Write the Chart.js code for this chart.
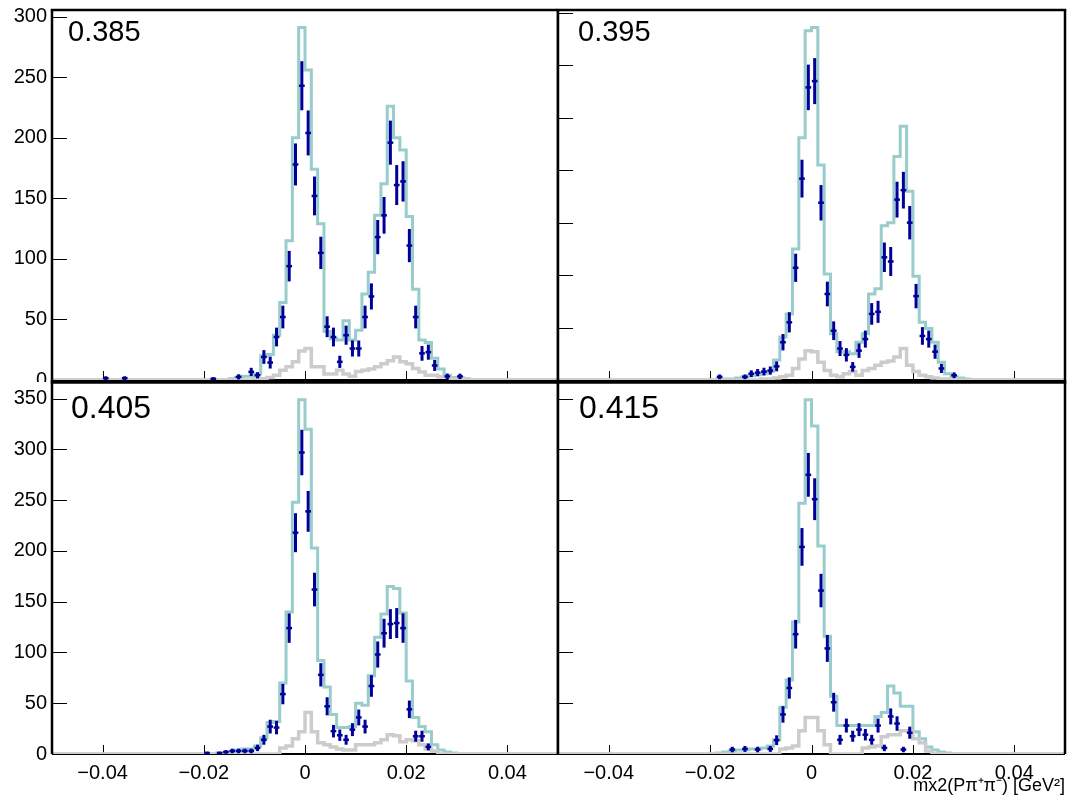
<!DOCTYPE html>
<html>
<head>
<meta charset="utf-8">
<script src="https://cdn.jsdelivr.net/npm/chart.js@4.4.1/dist/chart.umd.min.js"></script>
<style>
html,body{margin:0;padding:0;background:#fff;}
#wrap{position:relative;width:1069px;height:801px;overflow:hidden;}
#wrap canvas{position:absolute;left:0;top:0;}
</style>
</head>
<body>
<div id="wrap">
<canvas id="cTL" width="1069" height="801"></canvas>
<canvas id="cTR" width="1069" height="801"></canvas>
<canvas id="cBL" width="1069" height="801"></canvas>
<canvas id="cBR" width="1069" height="801"></canvas>
</div>
<script>
// ---------------- binning ----------------
const nBins = 80;
const xLow = -0.05;
const xHigh = 0.05;
const firstBin = 8;            // value arrays below start at this bin; bins outside are empty
const panelLabels = ['0.385', '0.395', '0.405', '0.415'];
const xTickValues = [-0.04, -0.02, 0, 0.02, 0.04];
const yTickValues = [0, 50, 100, 150, 200, 250, 300, 350];
const xAxisTitle = 'mx2(P\u03c0\u207a\u03c0\u207b) [GeV\u00b2]';

// ---------------- panel 0.385 (top left) ----------------
const dataTL = [1.5,0,0,1.5,0,0,0,0, 0,0,0,0,0,0,0,0,
  0,1,0,0,0,2.6,0,6.7,3.9,19, 14.4,35.5,52,94,178,243,204,152,105,44,
  35.5,15,37,26,26,52,69,118,136,196, 161,164,111,52,22,23,12,0,3,0, 3,0];
const fitTL = [0,0,0,0,0,0,0,0, 0,0,0,0,0,0,0,0,
  0,0,0,0,1,2,3,3,5,20, 21,37,64,115,200,291,256,174,129,40,
  34,33,49,33,41,71,89,136,162,226, 200,190,135,75,33,31,18,9,4,2, 2,1];
const bgTL = [0,0,0,0,0,0,0,0, 0,0,0,0,0,0,0,0,
  0,0,0,0,0,0,0,0,0.5,1, 2,4,8,11,15,24,26,11,11,5,
  5,8,5,3,7,8,9,11,13.5,16, 19,15,13.5,9.4,6.7,4,4,2.6,2.6,1, 1,0];

// ---------------- panel 0.395 (top right) ----------------
const dataTR = [0,0,0,0,0,0,0,0, 0,0,0,0,0,0,0,0,
  0,3,0,0,0,3,6,7,8,9, 13,36,55,107,192,279,285,169,82,47,
  30,24,12.5,28,39,63,65,117,113,172, 181,150,80,42,39,27,11,0,4.5,0, 0,0];
const fitTR = [0,0,0,0,0,0,0,0, 0,0,0,0,0,0,0,0,
  0,1,1,1,2,3,4,5,6,8, 19,41,63,125,231,333,336,205,101,44,
  27,27,25,36,44,82,87,147,150,213, 242,180,99,55,49,36,17,6,3,2, 1,0];
const bgTR = [0,0,0,0,0,0,0,0, 0,0,0,0,0,0,0,0,
  0,0,0,0,0,0,0,0,1,1, 2,3,4.5,11,20,28,27,17,9,4.5,
  3,6,8,4.5,9,11,14,17,18,22, 30,14,8,4.5,3,2,1,1,0,0, 0,0];

// ---------------- panel 0.405 (bottom left) ----------------
const dataBL = [0,0,0,0,0,0,0,0, 0,0,0,0,0,0,0,0,
  1,0,1,2,3,3,3,3,6,14, 27,26,59,124,218,297,239,162,78,47,
  22.5,18.5,14,24,36,27,67,98,119,128, 129,124,44,17.5,17.5,7,0,0,0,0, 0,0];
const fitBL = [0,0,0,0,0,0,0,0, 0,0,0,0,0,0,0,0,
  0,0,1,1,2,4,5,5,8,16, 31,32,70,140,248,349,320,203,92,66,
  39,26,26,27,50,48,77,115,138,165, 163,139,72,36,27,22,9,4,2,1, 0,0];
const bgBL = [0,0,0,0,0,0,0,0, 0,0,0,0,0,0,0,0,
  0,0,0,0,0,0,0,0,0,0, 0,0,6,8,15,22,41,22,11,9,
  7,5,4,4,9,9,9,11,14,19, 18,12,14,13,9,5,3,0,0,0, 0,0];

// ---------------- panel 0.415 (bottom right) ----------------
const dataBR = [0,0,0,0,0,0,0,0, 0,0,0,0,0,0,0,0,
  0,0,0,4.4,0,5,0,4.4,0,5, 13.6,39,65,118,204,275,251,161,104,51,
  14,28,17.5,24,19,14,28,6,37,30, 4.4,21,0,0,0,0,0,0,0,0, 0,0];
const fitBR = [0,0,0,0,0,0,0,0, 0,0,0,0,0,0,0,0,
  0,1,2,3,4,4,5,5,6,8, 14,46,73,130,247,349,323,205,116,57,
  28,28,28,28,28,28,37,41,67,60, 47,47,22,15,7,4,2,1,0,0, 0,0];
const bgBR = [0,0,0,0,0,0,0,0, 0,0,0,0,0,0,0,0,
  0,0,0,0,0,0,0,0,0,0, 0,5,6,8,23,36,36,23,9,0,
  0,0,0,0,6,7,8,17,19,19, 23,23,15,11,3,0,0,0,0,0, 0,0];

// ---------------- styling / layout ----------------
const FONT = '"Liberation Sans", Arial, Helvetica, sans-serif';
const dataColor = '#000099';
const fitColor = '#99cccc';
const bgColor = '#cccccc';
const errScale = 1.3;
Chart.defaults.font.family = FONT;
Chart.defaults.color = '#000';

const binWidth = (xHigh - xLow) / nBins;

function valueAt(values, i) {
  const k = i - firstBin;
  return (k >= 0 && k < values.length) ? values[k] : 0;
}
function histPoints(values) {
  const pts = [];
  for (let i = 0; i <= nBins; i++) {
    pts.push({x: xLow + i * binWidth, y: valueAt(values, Math.min(i, nBins - 1))});
  }
  return pts;
}
function dataPoints(values) {
  const pts = [];
  values.forEach((v, k) => {
    if (v > 0) pts.push({x: xLow + (firstBin + k + 0.5) * binWidth, y: v});
  });
  return pts;
}
function fmtX(v) {
  if (Math.abs(v) < 1e-9) return '0';
  return (v < 0 ? '\u2212' : '') + Math.abs(v).toFixed(2);
}

const panels = [
  {id: 'cTL', label: panelLabels[0], data: dataTL, fit: fitTL, bg: bgTL,
   area: {l: 52, t: 10, r: 558, b: 380}, pad: {l: 0, t: 0, r: 558, b: 382}, frameBottom: 382, topWidth: 2.5,
   yLabels: true, xLabels: false, title: false, labelSize: 29, labelDx: 16, labelDy: 31},
  {id: 'cTR', label: panelLabels[1], data: dataTR, fit: fitTR, bg: bgTR,
   area: {l: 558, t: 10, r: 1065, b: 380}, pad: {l: 558, t: 0, r: 1069, b: 382}, frameBottom: 382, topWidth: 2.5,
   yLabels: false, xLabels: false, title: false, labelSize: 29, labelDx: 20, labelDy: 31},
  {id: 'cBL', label: panelLabels[2], data: dataBL, fit: fitBL, bg: bgBL,
   area: {l: 52, t: 382, r: 558, b: 754}, pad: {l: 0, t: 382, r: 558, b: 801}, frameBottom: 754, topWidth: 3.5,
   yLabels: true, xLabels: true, title: false, labelSize: 32, labelDx: 19, labelDy: 36},
  {id: 'cBR', label: panelLabels[3], data: dataBR, fit: fitBR, bg: bgBR,
   area: {l: 558, t: 382, r: 1065, b: 754}, pad: {l: 558, t: 382, r: 1069, b: 801}, frameBottom: 754, topWidth: 3.5,
   yLabels: false, xLabels: true, title: true, labelSize: 32, labelDx: 21, labelDy: 36}
];

const rootStyle = {
  id: 'rootStyle',
  beforeDraw(chart, args, o) {
    const ctx = chart.ctx;
    ctx.save();
    ctx.fillStyle = '#fff';
    ctx.fillRect(o.pad.l, o.pad.t, o.pad.r - o.pad.l, o.pad.b - o.pad.t);
    ctx.restore();
  },
  beforeDatasetsDraw(chart, args, o) {
    // x axis line at zero level: the histograms are drawn over it
    const ctx = chart.ctx, a = chart.chartArea, xs = chart.scales.x;
    ctx.save();
    ctx.strokeStyle = '#000';
    ctx.lineWidth = 2;
    ctx.beginPath(); ctx.moveTo(a.left, a.bottom); ctx.lineTo(a.right, a.bottom); ctx.stroke();
    ctx.lineWidth = 1;
    xTickValues.forEach(v => {
      const x = Math.round(xs.getPixelForValue(v)) + 0.5;
      ctx.beginPath(); ctx.moveTo(x, a.bottom); ctx.lineTo(x, a.bottom - 9); ctx.stroke();
    });
    ctx.restore();
  },
  afterDatasetsDraw(chart) {
    const ctx = chart.ctx, xs = chart.scales.x, ys = chart.scales.y, a = chart.chartArea;
    const meta = chart.getDatasetMeta(0);
    const ds = chart.data.datasets[0];
    ctx.save();
    ctx.beginPath();
    ctx.rect(a.left, a.top, a.right - a.left, a.bottom - a.top);
    ctx.clip();
    ctx.strokeStyle = dataColor;
    ctx.lineCap = 'butt';
    meta.data.forEach((pt, j) => {
      const d = ds.data[j];
      const e = errScale * Math.sqrt(d.y);
      const y1 = ys.getPixelForValue(d.y + e);
      const y2 = ys.getPixelForValue(Math.max(d.y - e, 0));
      ctx.lineWidth = 3;
      ctx.beginPath(); ctx.moveTo(pt.x, y1); ctx.lineTo(pt.x, y2); ctx.stroke();
      const xl = xs.getPixelForValue(d.x - binWidth * 0.45);
      const xr = xs.getPixelForValue(d.x + binWidth * 0.45);
      ctx.lineWidth = 2.5;
      ctx.beginPath(); ctx.moveTo(xl, pt.y); ctx.lineTo(xr, pt.y); ctx.stroke();
    });
    ctx.restore();
  },
  afterDraw(chart, args, o) {
    const ctx = chart.ctx, ys = chart.scales.y, a = chart.chartArea;
    ctx.save();
    ctx.strokeStyle = '#000';
    ctx.lineWidth = 1;
    yTickValues.filter(v => v <= ys.max).forEach(v => {
      const y = Math.round(ys.getPixelForValue(v)) + 0.5;
      ctx.beginPath(); ctx.moveTo(a.left, y); ctx.lineTo(a.left + 15, y); ctx.stroke();
    });
    ctx.lineWidth = 2.5;
    ctx.beginPath();
    ctx.moveTo(a.left, o.frameBottom); ctx.lineTo(a.left, a.top);
    ctx.moveTo(a.right, a.top); ctx.lineTo(a.right, o.frameBottom);
    ctx.stroke();
    ctx.lineWidth = o.topWidth;
    ctx.beginPath(); ctx.moveTo(a.left - 1.25, a.top); ctx.lineTo(a.right + 1.25, a.top); ctx.stroke();
    ctx.fillStyle = '#000';
    ctx.font = o.labelSize + 'px ' + FONT;
    ctx.textBaseline = 'alphabetic';
    ctx.textAlign = 'left';
    ctx.fillText(o.label, a.left + o.labelDx, a.top + o.labelDy);
    ctx.restore();
  }
};

panels.forEach(p => {
  const yMax = 1.05 * Math.max(...p.fit);
  new Chart(document.getElementById(p.id), {
    type: 'line',
    data: {
      datasets: [
        {label: 'data', data: dataPoints(p.data), showLine: false, pointRadius: 0,
         pointHoverRadius: 0, borderColor: dataColor, backgroundColor: dataColor},
        {label: 'bg', data: histPoints(p.bg), borderColor: bgColor, borderWidth: 3.5,
         pointRadius: 0, stepped: 'before', fill: false, borderJoinStyle: 'miter'},
        {label: 'fit', data: histPoints(p.fit), borderColor: fitColor, borderWidth: 3,
         pointRadius: 0, stepped: 'before', fill: false, borderJoinStyle: 'miter'}
      ]
    },
    options: {
      responsive: false,
      animation: false,
      devicePixelRatio: 1,
      events: [],
      layout: {padding: {
        left: p.yLabels ? 0 : p.area.l,
        top: p.area.t,
        right: 1069 - p.area.r,
        bottom: p.xLabels ? 801 - p.area.b - 43 : 801 - p.area.b
      }},
      plugins: {
        legend: {display: false},
        tooltip: {enabled: false},
        rootStyle: {label: p.label, labelSize: p.labelSize, labelDx: p.labelDx, labelDy: p.labelDy,
                    pad: p.pad, frameBottom: p.frameBottom, topWidth: p.topWidth}
      },
      scales: {
        x: {
          type: 'linear', min: xLow, max: xHigh,
          display: p.xLabels,
          grid: {display: false, drawTicks: false},
          border: {display: false},
          ticks: {font: {size: 20}, color: '#000', padding: 7, maxRotation: 0, autoSkip: false,
                  callback: v => fmtX(v)},
          afterBuildTicks: s => { s.ticks = xTickValues.map(v => ({value: v})); },
          afterFit: s => { s.height = p.xLabels ? 43 : 0; s.paddingLeft = 0; s.paddingRight = 0; },
          title: {display: p.title, text: xAxisTitle, align: 'end', color: '#000',
                  font: {size: 18}, padding: 0}
        },
        y: {
          type: 'linear', min: 0, max: yMax,
          display: p.yLabels,
          grid: {display: false, drawTicks: false},
          border: {display: false},
          ticks: {font: {size: 20}, color: '#000', padding: 5},
          afterBuildTicks: s => { s.ticks = yTickValues.filter(v => v <= yMax).map(v => ({value: v})); },
          afterFit: s => { s.width = p.yLabels ? p.area.l : 0; s.paddingTop = 0; s.paddingBottom = 0; }
        }
      }
    },
    plugins: [rootStyle]
  });
});
</script>
</body>
</html>
